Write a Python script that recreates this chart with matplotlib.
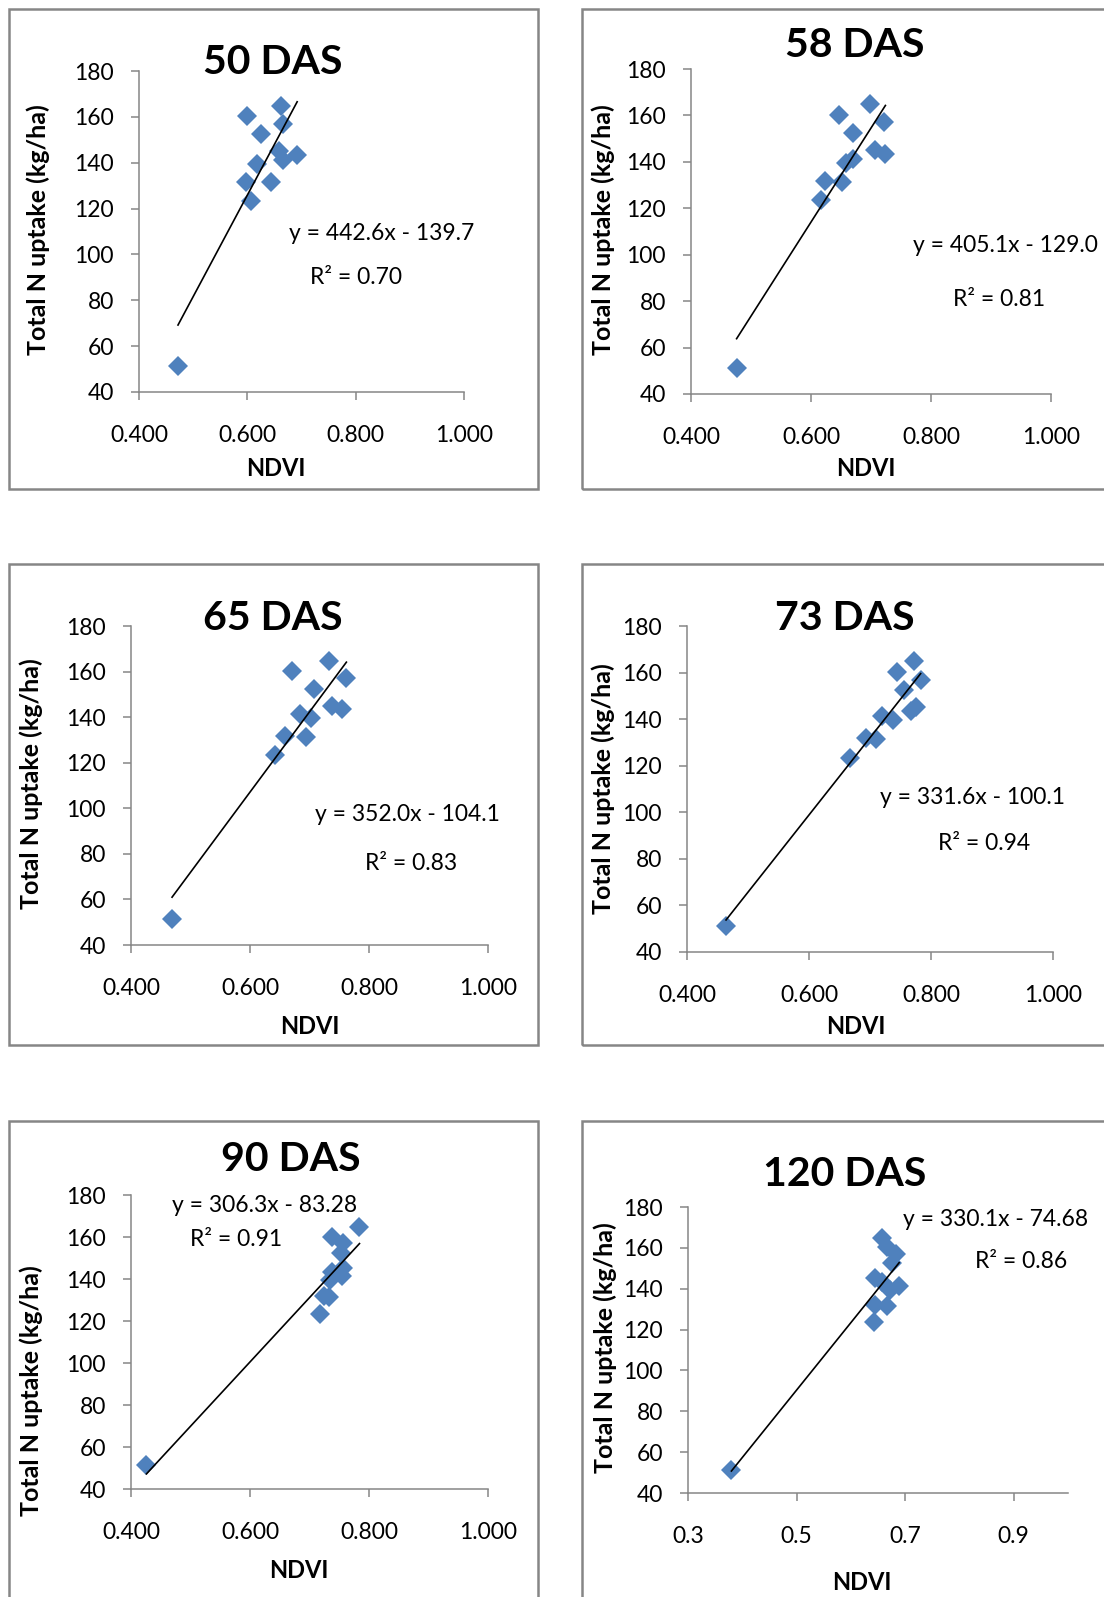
"""NDVI vs total N uptake at six growth stages (DAS), Excel-style scatter panels.

Saves out.png (1104 x 1597 px).
"""

import matplotlib
matplotlib.use('Agg')
import matplotlib.pyplot as plt
from matplotlib.patches import Rectangle
import numpy as np

plt.rcParams.update({
    'font.family': ['Lato', 'DejaVu Sans'],
    'font.size': 14,
    'axes.linewidth': 1.1,
    'axes.edgecolor': '#868686',
    'xtick.color': '#868686',
    'ytick.color': '#868686',
    'xtick.labelcolor': 'black',
    'ytick.labelcolor': 'black',
})

W, H = 1104, 1597

# Data
titles = ['50 DAS', '58 DAS', '65 DAS', '73 DAS', '90 DAS', '120 DAS']

# total N uptake (kg/ha), same plots in every panel
n_uptake = [164.8, 160.2, 157.0, 152.4, 145.1, 143.4, 141.4, 139.5, 131.8, 131.4, 123.5, 51.2]

ndvi_50 = [0.662, 0.600, 0.665, 0.625, 0.659, 0.692, 0.665, 0.617, 0.598, 0.644, 0.607, 0.472]
ndvi_58 = [0.699, 0.646, 0.721, 0.670, 0.707, 0.724, 0.670, 0.659, 0.624, 0.652, 0.617, 0.476]
ndvi_65 = [0.732, 0.670, 0.762, 0.707, 0.737, 0.755, 0.684, 0.702, 0.659, 0.694, 0.642, 0.469]
ndvi_73 = [0.772, 0.745, 0.783, 0.755, 0.775, 0.767, 0.719, 0.738, 0.693, 0.710, 0.667, 0.464]
ndvi_90 = [0.784, 0.738, 0.756, 0.753, 0.757, 0.738, 0.755, 0.735, 0.724, 0.732, 0.718, 0.426]
ndvi_120 = [0.657, 0.666, 0.684, 0.675, 0.644, 0.657, 0.689, 0.672, 0.644, 0.666, 0.643, 0.380]
ndvi_sets = [ndvi_50, ndvi_58, ndvi_65, ndvi_73, ndvi_90, ndvi_120]

slopes = [442.6, 405.1, 352.0, 331.6, 306.3, 330.1]
intercepts = [-139.7, -129.0, -104.1, -100.1, -83.28, -74.68]
eq_labels = ['y = 442.6x - 139.7', 'y = 405.1x - 129.0', 'y = 352.0x - 104.1',
             'y = 331.6x - 100.1', 'y = 306.3x - 83.28', 'y = 330.1x - 74.68']
r2_labels = ['R² = 0.70', 'R² = 0.81', 'R² = 0.83', 'R² = 0.94', 'R² = 0.91', 'R² = 0.86']

xticks_std = [0.4, 0.6, 0.8, 1.0]
xlabels_std = ['0.400', '0.600', '0.800', '1.000']
xticks_120 = [0.3, 0.5, 0.7, 0.9]
xlabels_120 = ['0.3', '0.5', '0.7', '0.9']
yticks = [40, 60, 80, 100, 120, 140, 160, 180]

# Layout (pixel positions in the 1104 x 1597 canvas)
axes_px = [(139, 71, 464, 392), (691, 69, 1051, 394),
           (131, 626, 488, 945), (687, 626, 1053, 952),
           (131, 1195, 488, 1489), (688, 1207, 1068, 1493)]
title_px = [(273, 74), (855, 57), (273, 630), (845, 630), (291, 1171), (845, 1186)]
eq_px = [(382, 233), (1005, 245), (407, 815), (973, 797), (265, 1206), (996, 1219)]
r2_px = [(356, 277), (999, 300), (411, 863), (984, 843), (236, 1239), (1021, 1262)]
ylab_px = [(38, 230), (603, 230), (31, 784), (603, 789), (31, 1391), (605, 1348)]
xlab_px = [(276, 469), (866, 469), (310, 1026), (856, 1026), (299, 1571), (862, 1582)]
box_cols = [(9, 538), (582, 1120)]
box_rows = [(9, 489), (564, 1045), (1121, 1620)]

BLUE = '#4F81BD'
GREY = '#868686'


def fx(x):
    return x / W


def fy(y):
    return 1 - y / H


fig = plt.figure(figsize=(W / 100, H / 100), dpi=100)

# chart-area borders
for (t, b) in box_rows:
    for (l, r) in box_cols:
        fig.add_artist(Rectangle((fx(l), fy(b)), (r - l) / W, (b - t) / H,
                                 transform=fig.transFigure, fill=False,
                                 edgecolor=GREY, linewidth=1.8))

for i in range(6):
    l, t, r, b = axes_px[i]
    ax = fig.add_axes([fx(l), fy(b), (r - l) / W, (b - t) / H])
    ax.patch.set_alpha(0)

    x = np.array(ndvi_sets[i])
    y = np.array(n_uptake)
    ax.plot(x, y, linestyle='none', marker='D', markersize=10,
            markerfacecolor=BLUE, markeredgewidth=0, zorder=2)

    # linear trendline over the data range
    xl = np.array([x.min(), x.max()])
    ax.plot(xl, slopes[i] * xl + intercepts[i], color='black', lw=1.2, zorder=3)

    if i == 5:
        ax.set_xlim(0.3, 1.0)
        ax.set_xticks(xticks_120)
        ax.set_xticklabels(xlabels_120)
    else:
        ax.set_xlim(0.4, 1.0)
        ax.set_xticks(xticks_std)
        ax.set_xticklabels(xlabels_std)
    ax.set_ylim(40, 180)
    ax.set_yticks(yticks)

    ax.spines['top'].set_visible(False)
    ax.spines['right'].set_visible(False)
    ax.tick_params(axis='x', length=6, width=1.1, pad=18, labelsize=16.5)
    ax.tick_params(axis='y', length=6, width=1.1, pad=12, labelsize=16.5)

    fig.text(fx(title_px[i][0]), fy(title_px[i][1]), titles[i], ha='center',
             va='baseline', fontsize=29.5, fontweight='bold')
    fig.text(fx(eq_px[i][0]), fy(eq_px[i][1]), eq_labels[i], ha='center',
             va='center', fontsize=16.5)
    fig.text(fx(r2_px[i][0]), fy(r2_px[i][1]), r2_labels[i], ha='center',
             va='center', fontsize=16.5)
    fig.text(fx(ylab_px[i][0]), fy(ylab_px[i][1]), 'Total N uptake (kg/ha)',
             ha='center', va='center', rotation=90, fontsize=18, fontweight='bold')
    fig.text(fx(xlab_px[i][0]), fy(xlab_px[i][1]), 'NDVI', ha='center',
             va='center', fontsize=17, fontweight='bold')

fig.savefig('out.png', dpi=100)
plt.close(fig)
